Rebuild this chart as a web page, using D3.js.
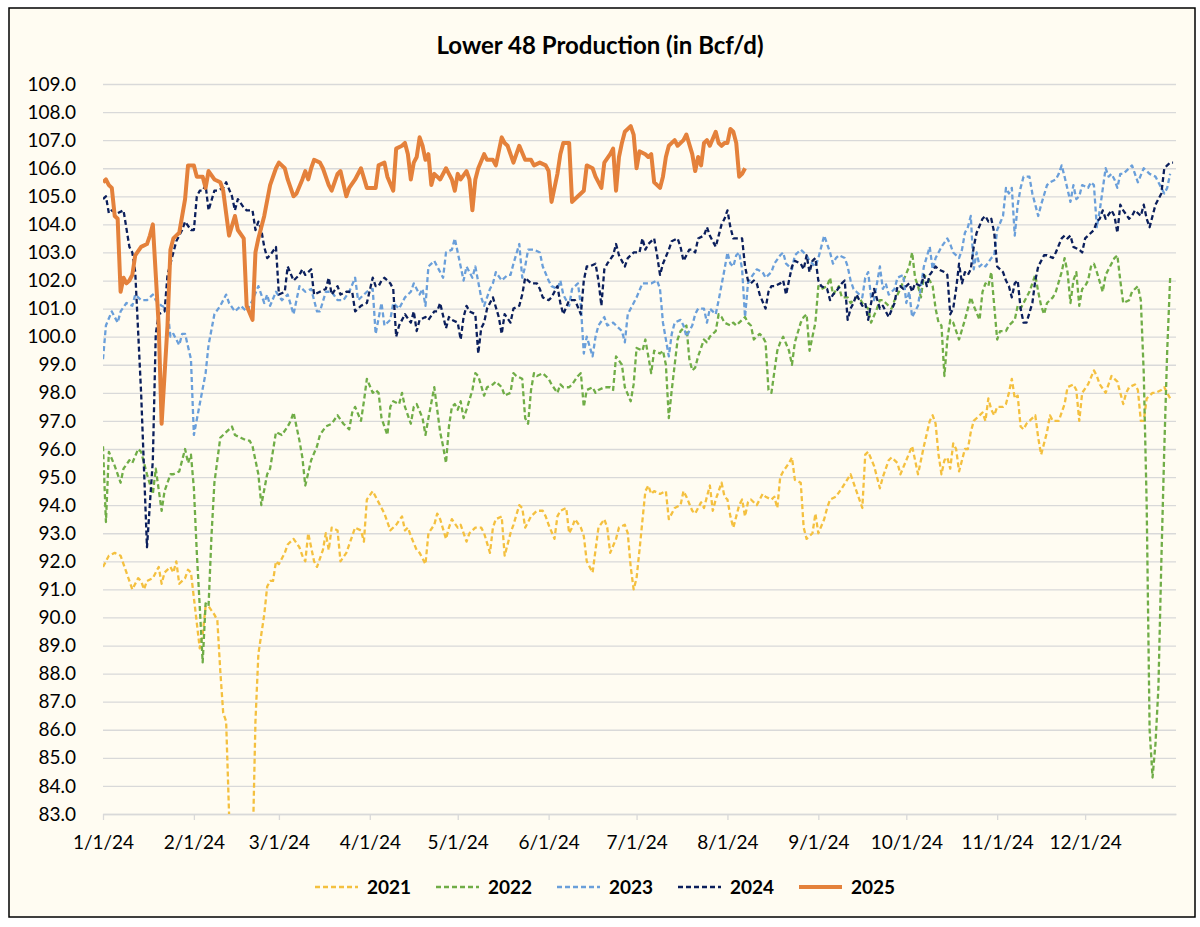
<!DOCTYPE html>
<html>
<head>
<meta charset="utf-8">
<script src="https://cdn.jsdelivr.net/npm/d3@7"></script>
<style>
  html, body { margin: 0; padding: 0; background: #ffffff; }
  svg text { font-family: Lato, "Open Sans", sans-serif; fill: #000; }
</style>
</head>
<body>
<div id="chart"></div>
<script>
// values: [day of year (0 = Jan 1), Bcf/d]
const s2021 = [[0,91.8],[2,92.2],[4,92.3],[6,92.2],[7,91.9],[9,91.3],[10,91.0],[12,91.4],[13,91.3],[14,91.0],[15,91.3],[17,91.4],[18,91.6],[19,91.8],[20,91.2],[21,91.6],[23,91.8],[24,91.6],[25,92.0],[26,91.2],[28,91.4],[29,91.7],[30,91.6],[31,90.7],[32,89.8],[33,88.9],[34,89.4],[35,90.4],[36,90.4],[38,90.1],[39,89.9],[40,88.1],[41,86.6],[42,86.3],[43,83.0],[44,81.0],[51,81.5],[52,86.3],[53,88.7],[55,90.1],[56,91.1],[57,91.3],[58,91.3],[59,92.0],[60,91.9],[62,92.3],[63,92.6],[65,92.8],[67,92.5],[68,92.2],[69,92.0],[70,93.0],[72,92.0],[73,91.8],[75,92.4],[76,93.0],[77,92.4],[78,93.2],[80,93.1],[81,92.0],[83,92.3],[84,92.6],[86,93.2],[88,93.1],[89,92.7],[90,94.2],[92,94.5],[93,94.3],
  [94,94.1],[96,93.7],[98,93.1],[100,93.3],[102,93.6],[103,93.1],[104,93.2],[105,92.9],[107,92.4],[108,92.3],[110,91.9],[111,93.0],[113,93.3],[114,93.7],[115,93.5],[117,92.8],[118,93.2],[119,93.5],[121,93.2],[122,93.3],[124,92.7],[125,93.0],[127,93.2],[129,93.2],[130,93.0],[132,92.3],[133,93.2],[134,93.5],[136,93.6],[137,92.2],[139,93.0],[140,93.3],[142,94.0],[143,93.9],[144,93.2],[146,93.6],[147,93.7],[148,93.8],[150,93.8],[151,93.6],[152,93.3],[154,92.8],[155,93.6],[156,93.8],[158,93.9],[159,93.0],[160,93.2],[161,93.5],[163,93.2],[164,92.9],[165,92.0],[167,91.6],[168,92.4],[169,93.2],[171,93.5],[172,93.2],[173,92.3],[175,92.8],[176,93.2],[178,93.3],[179,93.0],[180,91.8],[181,91.0],[182,91.4],[183,92.4],[185,94.5],[186,94.7],[187,94.4],[188,94.5],[190,94.4],[192,94.5],[193,93.5],[195,93.9],[197,94.0],[198,94.5],[199,94.3],[201,93.8],[202,93.7],[204,94.1],[205,93.9],[207,94.7],[208,93.8],[209,94.2],[211,94.8],[212,94.3],[213,94.2],[214,93.6],[215,93.2],[217,94.0],[218,94.2],[219,93.6],[220,94.1],[221,94.2],[223,94.0],[225,94.4],[226,94.3],[228,94.2],[229,94.3],[230,93.9],[231,95.0],[232,95.2],[234,95.5],[235,95.7],[236,94.9],[238,94.8],[239,93.2],[240,92.8],[241,92.9],[242,93.0],[243,93.7],[244,93.0],[246,93.5],[247,93.9],[248,94.2],
  [250,94.3],[252,94.6],[255,95.1],[256,94.8],[257,94.5],[259,93.9],[260,95.8],[261,95.9],[263,95.4],[265,94.6],[266,95.0],[268,95.6],[269,95.7],[271,95.5],[272,95.1],[274,95.6],[276,96.1],[278,95.1],[279,95.6],[280,96.1],[282,97.0],[283,97.2],[284,96.9],[285,95.8],[286,95.1],[287,95.6],[288,95.7],[289,95.3],[290,96.2],[291,96.0],[292,95.2],[294,96.0],[295,96.0],[296,96.6],[297,97.0],[299,97.2],[300,97.3],[301,97.0],[302,97.8],[303,97.4],[304,97.2],[305,97.5],[307,97.5],[308,97.6],[309,98.0],[310,98.5],[311,97.8],[312,97.9],[313,96.8],[314,96.7],[315,96.9],[316,97.0],[318,97.2],[319,96.4],[320,95.8],[322,96.6],[323,97.2],[324,97.0],[326,97.0],[327,97.3],[328,97.6],[329,98.2],[331,98.3],[332,98.1],[333,97.0],[334,98.0],[336,98.3],[338,98.8],[339,98.6],[340,98.3],[342,98.0],[343,98.3],[344,98.6],[345,98.5],[346,98.4],[348,97.6],[349,98.0],[350,98.2],[352,98.3],[353,98.1],[354,97.0],[355,97.0],[356,97.8],[358,98.0],[359,98.0],[361,98.1],[362,98.2],[363,98.0],[364,97.8]];

const s2022 = [[0,96.1],[1,93.4],[2,95.9],[4,95.4],[6,94.8],[7,95.3],[9,95.6],[10,95.5],[12,96.0],[13,95.9],[15,95.1],[17,94.4],[18,95.3],[20,93.8],[21,94.5],[23,95.1],[24,95.1],[26,95.2],[28,96.0],[29,95.5],[30,95.8],[31,94.6],[32,92.3],[33,90.4],[34,88.4],[35,90.5],[36,90.4],[37,92.9],[38,94.8],[40,96.4],[42,96.6],[43,96.7],[44,96.8],[45,96.5],[47,96.4],[49,96.3],[50,96.3],[51,96.1],[53,95.1],[54,94.0],[56,95.1],[57,95.3],[59,96.6],[61,96.5],[63,96.8],[64,97.0],[65,97.3],[67,96.3],[68,95.7],[69,94.7],[71,95.6],[73,96.1],[74,96.5],[76,96.8],[78,96.9],[80,97.2],[82,96.9],[84,96.7],[85,97.3],[86,97.5],[88,97.0],[89,97.7],[90,98.5],[92,98.0],[93,98.1],
  [94,98.0],[95,97.1],[97,96.5],[98,97.5],[99,97.7],[101,97.6],[102,98.0],[103,97.5],[105,96.9],[106,97.5],[107,97.6],[109,97.1],[110,96.5],[111,97.1],[113,98.2],[114,97.4],[115,96.6],[116,96.1],[117,95.5],[118,96.8],[119,97.5],[120,97.6],[121,97.4],[122,97.7],[123,97.1],[124,97.4],[126,98.1],[127,98.7],[128,98.6],[130,97.9],[131,98.2],[133,98.3],[134,98.4],[136,98.2],[137,97.9],[139,98.0],[140,98.7],[141,98.6],[143,98.5],[144,97.1],[145,96.9],[146,98.1],[147,98.7],[148,98.6],[150,98.7],[152,98.5],[153,98.3],[155,98.0],[156,98.3],[157,98.2],[159,98.2],[160,98.3],[162,98.6],[163,98.7],[164,97.5],[165,98.1],[167,98.2],[168,98.0],[169,98.1],[171,98.2],[173,98.2],[174,98.1],[175,99.3],[177,99.0],[178,98.2],[180,97.7],[181,98.3],[182,99.6],[184,99.5],[185,99.9],[187,98.7],
  [188,99.5],[190,99.4],[191,99.5],[192,99.0],[193,97.1],[194,98.1],[195,99.0],[196,99.9],[197,100.2],[199,100.4],[200,99.2],[201,98.8],[202,98.9],[203,99.3],[205,99.9],[206,99.8],[207,100.0],[209,100.2],[210,100.8],[211,100.7],[212,100.5],[214,100.4],[215,100.5],[216,100.4],[217,100.5],[219,100.7],[220,100.5],[221,100.4],[222,99.9],[224,100.1],[225,100.0],[226,99.8],[227,98.1],[228,98.0],[230,99.5],[231,99.8],[232,100.0],[234,99.5],[235,99.0],[236,99.8],[238,100.5],[239,100.7],[240,100.8],[241,99.5],[243,100.5],[244,101.8],[245,101.7],[247,101.8],[248,102.1],[249,101.5],[251,101.8],[252,101.4],[254,101.4],[255,101.2],[257,101.4],[258,101.4],[259,101.2],[261,101.0],[262,100.5],[264,101.0],[265,101.3],[266,101.3],[267,101.2],[269,101.0],[270,101.3],[272,101.7],[273,102.0],[275,102.5],[276,103.0],[277,102.1],[278,101.8],[279,101.4],
  [280,102.2],[282,102.0],[283,101.8],[284,101.0],[285,100.5],[286,100.4],[287,98.6],[288,99.9],[289,100.6],[290,100.5],[291,100.2],[292,99.9],[294,100.6],[295,101.0],[296,101.4],[297,101.1],[299,100.6],[300,101.6],[301,101.9],[302,101.8],[303,102.3],[304,101.1],[305,99.9],[306,100.2],[308,100.2],[309,100.4],[311,100.6],[312,101.1],[313,101.0],[315,101.4],[316,101.6],[318,102.2],[319,101.6],[320,101.1],[321,100.8],[322,101.2],[324,101.4],[325,101.6],[327,102.3],[328,102.8],[329,102.3],[330,101.2],[331,102.0],[332,102.3],[333,101.1],[334,101.7],[335,101.8],[336,102.0],[337,102.5],[338,102.6],[339,102.3],[341,101.6],[342,102.2],[343,102.4],[345,102.8],[346,102.9],[347,102.0],[348,101.2],[350,101.3],[351,101.6],[352,101.7],[353,101.8],[354,101.3],[355,98.7],[356,94.0],[357,86.0],[358,84.3],[359,85.5],[360,87.5],[361,92.0],[362,96.0],[363,99.5],[364,102.1]];

const s2023 = [[0,99.2],[1,100.4],[3,100.9],[5,100.5],[6,100.9],[8,101.2],[10,101.1],[11,101.5],[13,101.3],[15,101.3],[17,101.5],[18,101.3],[20,101.1],[22,101.0],[23,100.0],[24,100.1],[26,99.7],[27,100.1],[28,100.1],[30,99.2],[31,96.5],[33,97.6],[35,98.7],[36,99.7],[38,100.8],[40,101.1],[42,101.5],[43,101.2],[45,100.9],[47,101.1],[49,100.9],[51,101.3],[53,101.8],[55,101.2],[56,101.5],[57,101.1],[59,101.6],[61,101.3],[63,101.5],[65,100.8],[67,101.8],[69,101.6],[71,101.7],[73,100.9],[74,100.9],[76,101.6],[78,101.6],[80,101.3],[82,101.3],[84,101.6],[86,102.1],[87,101.3],[89,101.5],[90,101.6],[92,101.7],[93,100.1],
  [95,101.2],[96,100.4],[98,100.6],[99,101.2],[101,101.0],[102,101.2],[103,101.4],[105,101.6],[106,101.9],[108,101.5],[109,101.7],[110,101.1],[111,102.5],[113,102.7],[114,102.5],[116,102.1],[117,103.0],[119,103.1],[120,103.5],[122,102.5],[123,102.0],[124,102.5],[126,102.1],[127,102.5],[129,101.4],[130,101.1],[132,101.7],[133,101.9],[134,102.3],[136,102.0],[138,102.2],[139,102.2],[140,102.6],[142,103.3],[143,102.1],[144,102.5],[145,103.1],[147,103.1],[149,103.0],[150,102.5],[152,102.0],[153,101.8],[155,101.7],[156,102.0],[157,101.5],[159,101.1],[160,101.7],[162,101.9],[163,101.1],[164,99.4],[165,100.0],[167,99.3],[168,100.0],[169,100.4],[171,100.7],[172,100.4],[174,100.5],[175,100.4],[177,100.2],[178,99.8],[179,100.8],[181,101.2],[182,101.4],[184,101.9],[186,101.9],
  [187,101.9],[189,102.0],[190,101.7],[191,100.5],[193,99.3],[194,100.1],[195,100.5],[197,100.6],[198,100.4],[199,100.0],[200,100.2],[201,100.4],[202,100.8],[203,101.0],[205,101.0],[206,100.5],[207,101.0],[209,100.8],[210,101.3],[212,102.4],[213,103.0],[214,102.6],[215,102.5],[216,102.9],[217,103.0],[218,102.4],[219,100.7],[220,101.9],[221,102.1],[223,102.4],[225,102.3],[226,102.1],[228,102.3],[229,102.6],[231,102.9],[232,103.0],[233,102.6],[235,102.4],[236,102.9],[237,103.0],[238,103.1],[240,102.9],[241,102.7],[243,102.5],[244,102.8],[245,103.2],[246,103.6],[248,103.0],[249,102.6],[250,102.8],[251,102.9],[253,102.8],[254,102.5],[255,102.0],[256,101.7],[257,101.6],[259,101.4],[260,102.1],[261,102.3],[262,101.4],[263,101.3],[265,102.5],[266,101.7],[267,101.9],[268,101.5],[270,101.7],[271,102.1],[273,102.2],[274,101.2],[275,101.6],[276,100.7],[278,101.1],[279,101.8],
  [280,102.5],[282,103.2],[283,102.4],[284,102.8],[286,103.2],[288,103.5],[289,103.3],[290,103.0],[292,102.8],[293,103.1],[294,103.7],[295,103.9],[296,104.3],[297,102.4],[298,103.0],[299,102.5],[300,102.6],[301,102.5],[303,102.8],[304,102.9],[305,103.8],[307,104.3],[308,105.3],[309,105.1],[310,105.3],[311,103.6],[312,104.7],[313,105.3],[314,105.7],[316,105.7],[317,105.1],[319,104.3],[320,104.7],[322,105.4],[323,105.5],[325,105.6],[326,105.8],[327,106.1],[328,105.7],[330,104.8],[331,105.4],[332,104.9],[333,105.0],[334,105.4],[336,105.3],[337,105.5],[338,105.4],[339,103.9],[340,104.5],[342,106.0],[343,105.7],[344,105.8],[345,105.6],[346,105.3],[347,105.8],[348,105.8],[350,106.0],[351,106.1],[352,105.8],[353,105.5],[355,106.0],[356,105.9],[357,105.8],[359,105.7],[360,105.5],[361,105.3],[362,105.1],[363,105.3],[364,105.8]];

const s2024 = [[0,104.9],[1,105.0],[2,104.4],[3,104.5],[5,104.4],[7,104.5],[9,103.2],[10,103.0],[11,102.3],[13,98.0],[15,92.5],[17,95.6],[18,100.1],[19,100.8],[21,100.9],[22,102.2],[23,102.6],[25,103.4],[27,103.8],[28,104.1],[30,103.8],[31,103.8],[32,105.0],[33,105.2],[34,105.2],[35,105.4],[36,104.5],[38,105.2],[39,105.2],[41,105.3],[42,105.5],[44,105.0],[45,104.5],[46,104.9],[48,104.6],[49,104.5],[51,104.5],[52,103.8],[53,104.1],[54,103.8],[55,103.2],[56,102.8],[57,102.9],[59,103.2],[60,101.5],[62,101.6],[63,102.5],[65,102.0],[67,102.2],[68,102.4],[69,102.2],[71,102.4],[72,101.5],[74,101.6],[76,101.7],[77,102.1],[78,101.5],[80,101.8],[81,101.5],[83,101.6],[85,101.6],[86,100.9],[88,101.1],[90,101.2],[92,102.1],[93,101.8],
  [94,101.8],[95,102.0],[96,102.1],[98,101.9],[99,101.7],[100,100.0],[101,100.4],[102,100.6],[103,100.8],[105,100.5],[106,100.9],[107,100.2],[108,100.6],[110,100.7],[111,100.6],[113,100.9],[114,100.9],[115,101.2],[117,100.3],[118,100.7],[119,100.6],[121,100.5],[122,99.9],[123,100.7],[124,101.1],[125,100.9],[127,100.8],[128,99.4],[129,100.3],[130,100.5],[131,101.0],[132,101.2],[133,101.4],[135,100.7],[136,100.1],[137,100.8],[139,100.5],[140,101.0],[142,101.1],[143,101.5],[144,102.1],[146,101.9],[148,101.9],[149,101.7],[150,101.4],[152,101.3],[153,101.4],[155,101.8],[156,101.2],[157,100.8],[159,101.3],[160,101.3],[161,101.3],[163,100.8],[164,102.0],[165,102.5],[166,102.5],[168,102.6],[169,102.0],[170,101.1],[171,102.4],[172,102.6],[174,102.9],[175,103.3],[176,102.9],[178,102.5],[179,102.8],[181,103.0],[183,103.0],[184,103.5],[185,103.1],[186,103.3],
  [188,103.5],[189,102.9],[190,102.2],[191,102.6],[193,103.1],[194,103.4],[196,103.5],[197,103.2],[198,102.7],[200,103.1],[201,103.1],[202,103.0],[203,103.5],[205,103.6],[206,103.9],[207,103.6],[209,103.2],[210,103.6],[211,104.0],[212,104.2],[213,104.5],[214,103.9],[215,103.5],[216,103.5],[218,103.5],[219,102.5],[220,102.0],[221,101.9],[222,102.0],[223,101.9],[224,101.5],[226,101.0],[227,101.6],[228,101.8],[229,101.8],[231,101.9],[232,102.0],[233,101.5],[234,102.0],[235,102.5],[236,102.7],[238,102.6],[239,102.4],[240,102.9],[241,102.3],[242,102.7],[243,102.8],[244,102.0],[245,101.8],[247,101.7],[248,101.3],[249,101.5],[250,101.6],[252,101.9],[253,102.0],[254,100.6],[255,101.0],[256,101.2],[257,101.5],[259,101.1],[260,101.2],[261,100.6],[262,101.2],[263,101.7],[265,101.0],[266,101.1],[267,100.9],[268,100.7],[270,101.2],[271,101.8],[272,101.8],[273,101.7],[275,101.9],[276,101.6],[277,101.9],[279,101.8],
  [280,102.2],[281,101.8],[282,102.2],[284,102.5],[285,102.4],[287,102.3],[288,102.2],[289,100.8],[290,101.0],[291,101.7],[292,102.6],[293,101.9],[294,102.3],[295,102.2],[296,102.4],[297,103.2],[298,103.7],[300,104.2],[301,104.3],[302,104.1],[303,104.2],[304,103.7],[305,102.5],[307,102.3],[308,102.0],[309,101.8],[310,101.4],[311,101.9],[312,102.0],[313,101.0],[314,100.5],[315,100.5],[317,101.2],[318,102.0],[319,102.5],[321,102.9],[322,102.9],[324,102.8],[325,103.0],[327,103.5],[328,103.6],[329,103.5],[330,103.6],[331,103.2],[333,103.1],[334,103.0],[335,103.5],[336,103.6],[338,103.8],[339,104.1],[340,104.2],[341,104.5],[342,104.2],[344,104.5],[345,104.3],[346,103.7],[347,104.7],[348,104.5],[350,104.2],[351,104.3],[352,104.5],[354,104.3],[355,104.7],[356,104.2],[357,103.9],[359,104.7],[360,104.9],[361,105.1],[362,106.0],[363,106.1],[364,106.2],[365,106.2]];

const s2025 = [[0,105.5],[1,105.6],[2,105.4],[3,105.3],[4,104.3],[5,104.2],[6,101.6],[7,102.1],[8,101.9],[9,102.0],[10,102.2],[11,102.9],[13,103.2],[15,103.3],[16,103.6],[17,104.0],[18,102.2],[19,100.4],[20,96.9],[22,100.4],[23,103.1],[24,103.5],[26,103.7],[28,104.9],[29,106.1],[31,106.1],[32,105.7],[34,105.7],[35,105.3],[36,105.9],[38,105.6],[40,105.5],[41,105.2],[42,104.4],[43,103.6],[45,104.3],[46,103.8],[48,103.5],[49,101.1],[51,100.6],[52,103.0],[53,103.5],[55,104.3],[57,105.4],[59,106.0],[60,106.2],[62,106.0],[63,105.6],[65,105.0],[66,105.1],[68,105.6],[69,105.9],[70,105.6],[71,106.0],[72,106.3],[74,106.2],[75,106.0],[77,105.4],[78,105.2],[80,105.8],[81,105.9],[83,105.0],[84,105.3],[86,105.6],[88,106.0],[90,105.3],[93,105.3],
  [94,106.1],[96,106.2],[97,105.7],[99,105.2],[100,106.7],[102,106.8],[103,106.9],[104,106.5],[105,105.6],[106,106.2],[107,106.4],[108,107.1],[109,106.8],[110,106.3],[111,106.5],[112,105.4],[113,105.8],[114,105.7],[115,105.6],[117,106.0],[118,105.8],[119,105.6],[120,105.2],[121,105.8],[122,105.6],[124,105.9],[125,105.6],[126,104.5],[127,105.6],[128,106.0],[130,106.5],[131,106.3],[133,106.3],[134,106.1],[136,107.1],[137,106.9],[138,106.8],[140,106.2],[141,106.5],[142,106.8],[144,106.3],[146,106.3],[147,106.1],[149,106.2],[151,106.1],[152,105.9],[153,104.8],[155,105.8],[156,106.5],[157,106.9],[159,106.9],[160,104.8],[162,105.0],[164,105.2],[165,106.1],[167,106.0],[168,105.7],[170,105.3],[171,106.2],[173,106.5],[174,106.7],[175,105.2],[176,106.4],[177,106.9],[178,107.3],[180,107.5],[181,107.2],[182,106.0],[183,106.6],[185,106.5],[186,106.4],
  [187,106.5],[188,105.5],[190,105.3],[191,105.7],[192,106.4],[193,106.8],[195,107.0],[196,106.8],[198,107.0],[199,107.2],[201,106.5],[202,105.9],[203,106.4],[204,106.1],[205,106.9],[206,107.0],[207,106.8],[209,107.3],[210,106.9],[211,106.8],[212,106.9],[213,106.9],[214,107.4],[215,107.3],[216,106.9],[217,105.7],[218,105.8],[219,106.0]];

const seriesNames = ["2021", "2022", "2023", "2024", "2025"];
const seriesData = [s2021, s2022, s2023, s2024, s2025];
const seriesColors = ["#F4C03F", "#70AD47", "#6A9FDA", "#0B1F5C", "#E4813B"];

const xTickLabels = ["1/1/24", "2/1/24", "3/1/24", "4/1/24", "5/1/24", "6/1/24",
  "7/1/24", "8/1/24", "9/1/24", "10/1/24", "11/1/24", "12/1/24"];
const yTicks = d3.range(83, 109.5, 1);

const W = 1200, H = 927;
const plot = {left: 103, right: 1176, top: 84, bottom: 814};
const yearStart = new Date(2024, 0, 1);

const svg = d3.select("#chart").append("svg")
    .attr("width", W)
    .attr("height", H);

svg.append("rect")
    .attr("x", 9).attr("y", 8)
    .attr("width", 1186).attr("height", 909)
    .attr("fill", "#FFFCF2")
    .attr("stroke", "#000")
    .attr("stroke-width", 1.5);

svg.append("text")
    .attr("x", 600).attr("y", 54)
    .attr("text-anchor", "middle")
    .style("font-size", "24px")
    .style("font-weight", "bold")
    .text("Lower 48 Production (in Bcf/d)");

const x = d3.scaleTime()
    .domain([yearStart, new Date(2025, 0, 1)])
    .range([plot.left, plot.right]);

const y = d3.scaleLinear()
    .domain([83, 109])
    .range([plot.bottom, plot.top]);

const dayToDate = d => d3.timeDay.offset(yearStart, d);

// horizontal grid + y labels
const yAxis = svg.append("g")
    .attr("transform", `translate(${plot.left},0)`)
    .call(d3.axisLeft(y)
        .tickValues(yTicks)
        .tickFormat(d3.format(".1f"))
        .tickSizeInner(-(plot.right - plot.left))
        .tickSizeOuter(0)
        .tickPadding(27));
yAxis.select(".domain").remove();
yAxis.selectAll(".tick line")
    .attr("stroke", "#D9D9D9")
    .attr("stroke-width", 1.3);
yAxis.selectAll(".tick text")
    .style("font-size", "19px")
    .style("font-family", "Lato, sans-serif")
    .attr("fill", "#000");

// x axis with month ticks
const parseTick = d3.timeParse("%m/%d/%y");
const xAxis = svg.append("g")
    .attr("transform", `translate(0,${plot.bottom})`)
    .call(d3.axisBottom(x)
        .tickValues(xTickLabels.map(parseTick))
        .tickFormat(d3.timeFormat("%-m/%-d/%y"))
        .tickSizeInner(6)
        .tickSizeOuter(0)
        .tickPadding(16));
xAxis.select(".domain")
    .attr("stroke", "#D9D9D9")
    .attr("stroke-width", 1.3);
xAxis.selectAll(".tick line")
    .attr("stroke", "#D9D9D9")
    .attr("stroke-width", 1.3);
xAxis.selectAll(".tick text")
    .style("font-size", "19px")
    .style("font-family", "Lato, sans-serif")
    .attr("fill", "#000");

svg.append("clipPath")
    .attr("id", "plotClip")
    .append("rect")
    .attr("x", plot.left).attr("y", plot.top - 10)
    .attr("width", plot.right - plot.left)
    .attr("height", plot.bottom - plot.top + 10);

const line = d3.line()
    .x(d => x(dayToDate(d[0])))
    .y(d => y(d[1]));

const lines = svg.append("g").attr("clip-path", "url(#plotClip)");

seriesData.forEach((data, i) => {
    const solid = seriesNames[i] === "2025";
    lines.append("path")
        .datum(data)
        .attr("fill", "none")
        .attr("stroke", seriesColors[i])
        .attr("stroke-width", solid ? 4 : 2.3)
        .attr("stroke-dasharray", solid ? null : "5,3")
        .attr("stroke-linejoin", "round")
        .attr("d", line);
});

// legend
const legend = svg.append("g");
seriesNames.forEach((name, i) => {
    const lx = 315 + i * 121;
    const solid = name === "2025";
    legend.append("line")
        .attr("x1", lx).attr("x2", lx + 43)
        .attr("y1", 887).attr("y2", 887)
        .attr("stroke", seriesColors[i])
        .attr("stroke-width", solid ? 4 : 2.3)
        .attr("stroke-dasharray", solid ? null : "5,3");
    legend.append("text")
        .attr("x", lx + 52).attr("y", 894)
        .style("font-size", "19px")
        .style("font-weight", "bold")
        .text(name);
});
</script>
</body>
</html>
